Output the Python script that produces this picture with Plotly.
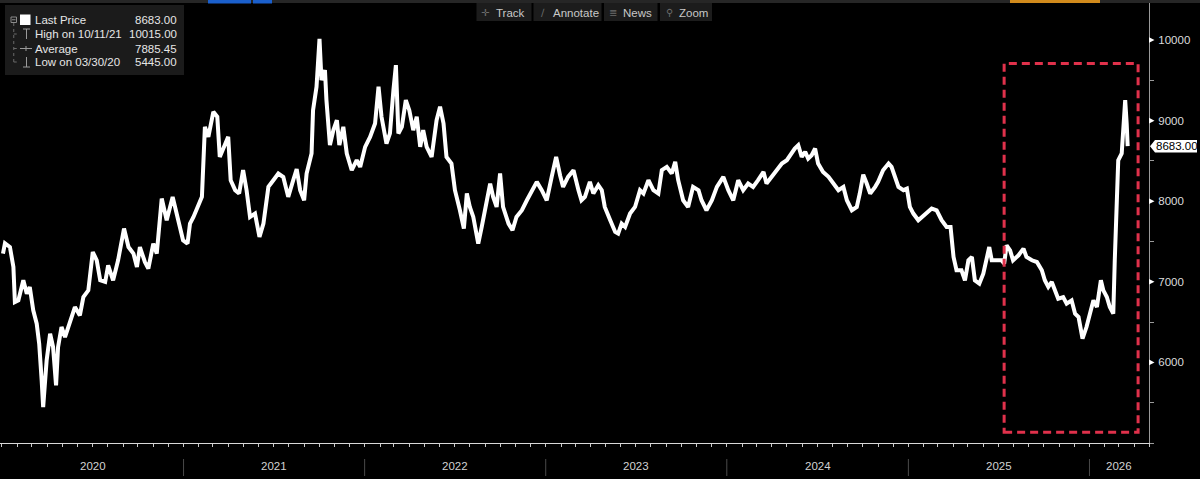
import pandas as pd
import plotly.graph_objects as go

# ---------------- data ----------------
dates = [
    "2020-01-03", "2020-01-07", "2020-01-17", "2020-01-24", "2020-01-27", "2020-02-03", "2020-02-13",
    "2020-02-20", "2020-02-26", "2020-03-04", "2020-03-11", "2020-03-16", "2020-03-21", "2020-03-24",
    "2020-03-31", "2020-04-07", "2020-04-13", "2020-04-19", "2020-04-23", "2020-04-30", "2020-05-07",
    "2020-05-17", "2020-05-27", "2020-06-06", "2020-06-13", "2020-06-23", "2020-07-02", "2020-07-10",
    "2020-07-17", "2020-07-27", "2020-08-02", "2020-08-12", "2020-08-22", "2020-09-03", "2020-09-12",
    "2020-09-22", "2020-09-29", "2020-10-05", "2020-10-15", "2020-10-22", "2020-11-01", "2020-11-08",
    "2020-11-18", "2020-11-28", "2020-12-10", "2020-12-18", "2020-12-25", "2020-12-31", "2021-01-09",
    "2021-01-14", "2021-01-21", "2021-01-31", "2021-02-07", "2021-02-13", "2021-02-20", "2021-03-02",
    "2021-03-10", "2021-03-15", "2021-03-23", "2021-04-01", "2021-04-06", "2021-04-15", "2021-04-23",
    "2021-05-01", "2021-05-08", "2021-05-15", "2021-05-25", "2021-06-03", "2021-06-11", "2021-06-21",
    "2021-07-01", "2021-07-11", "2021-07-21", "2021-07-31", "2021-08-10", "2021-08-17", "2021-08-24",
    "2021-09-01", "2021-09-06", "2021-09-16", "2021-09-19", "2021-09-26", "2021-10-02", "2021-10-06",
    "2021-10-13", "2021-10-16", "2021-10-23", "2021-10-30", "2021-11-06", "2021-11-11", "2021-11-19",
    "2021-11-26", "2021-12-06", "2021-12-16", "2021-12-23", "2022-01-02", "2022-01-12", "2022-01-22",
    "2022-01-29", "2022-02-04", "2022-02-14", "2022-02-21", "2022-02-28", "2022-03-05", "2022-03-10",
    "2022-03-17", "2022-03-25", "2022-04-01", "2022-04-09", "2022-04-16", "2022-04-23", "2022-04-29",
    "2022-05-06", "2022-05-16", "2022-05-26", "2022-06-02", "2022-06-09", "2022-06-15", "2022-06-25",
    "2022-07-02", "2022-07-12", "2022-07-20", "2022-07-26", "2022-08-01", "2022-08-08", "2022-08-18",
    "2022-08-25", "2022-09-01", "2022-09-11", "2022-09-17", "2022-09-24", "2022-10-01", "2022-10-07",
    "2022-10-18", "2022-10-26", "2022-11-03", "2022-11-14", "2022-11-24", "2022-12-04", "2022-12-14",
    "2022-12-24", "2023-01-03", "2023-01-13", "2023-01-22", "2023-01-30", "2023-02-05", "2023-02-15",
    "2023-02-26", "2023-03-08", "2023-03-14", "2023-03-21", "2023-03-31", "2023-04-07", "2023-04-17",
    "2023-04-24", "2023-04-30", "2023-05-11", "2023-05-21", "2023-05-27", "2023-06-03", "2023-06-10",
    "2023-06-20", "2023-06-30", "2023-07-10", "2023-07-17", "2023-07-27", "2023-08-06", "2023-08-16",
    "2023-08-23", "2023-09-02", "2023-09-12", "2023-09-19", "2023-09-25", "2023-10-05", "2023-10-15",
    "2023-10-25", "2023-11-05", "2023-11-11", "2023-11-21", "2023-12-02", "2023-12-12", "2023-12-25",
    "2024-01-04", "2024-01-14", "2024-01-24", "2024-02-03", "2024-02-13", "2024-02-23", "2024-03-04",
    "2024-03-15", "2024-03-21", "2024-03-31", "2024-04-11", "2024-04-21", "2024-05-01", "2024-05-09",
    "2024-05-17", "2024-05-24", "2024-05-31", "2024-06-07", "2024-06-13", "2024-06-20", "2024-06-27",
    "2024-07-03", "2024-07-13", "2024-07-24", "2024-08-03", "2024-08-13", "2024-08-23", "2024-08-30",
    "2024-09-09", "2024-09-19", "2024-09-25", "2024-10-02", "2024-10-09", "2024-10-16", "2024-10-26",
    "2024-11-01", "2024-11-11", "2024-11-22", "2024-11-28", "2024-12-05", "2024-12-12", "2024-12-22",
    "2024-12-29", "2025-01-04", "2025-01-11", "2025-01-21", "2025-01-28", "2025-02-07", "2025-02-17",
    "2025-02-27", "2025-03-09", "2025-03-19", "2025-03-27", "2025-04-02", "2025-04-08", "2025-04-18",
    "2025-04-25", "2025-05-02", "2025-05-09", "2025-05-15", "2025-05-24", "2025-06-01", "2025-06-08",
    "2025-06-13", "2025-06-18", "2025-06-28", "2025-07-08", "2025-07-13", "2025-07-18", "2025-07-25",
    "2025-07-31", "2025-08-11", "2025-08-21", "2025-08-27", "2025-09-07", "2025-09-17", "2025-09-27",
    "2025-10-03", "2025-10-10", "2025-10-17", "2025-10-24", "2025-10-30", "2025-11-09", "2025-11-16",
    "2025-11-26", "2025-12-03", "2025-12-10", "2025-12-18", "2025-12-26", "2026-01-02", "2026-01-09",
    "2026-01-16", "2026-01-24", "2026-01-29", "2026-02-05", "2026-02-11", "2026-02-18", "2026-02-21",
    "2026-02-25", "2026-02-28", "2026-03-07", "2026-03-14", "2026-03-17", "2026-03-19",
]
prices = [
    7350, 7478, 7432, 7184, 6749, 6770, 7019,
    6853, 6936, 6646, 6481, 6232, 5776, 5445,
    6025, 6357, 6190, 5714, 6190, 6439, 6315,
    6522, 6687, 6584, 6811, 6894, 7370, 7267,
    7019, 6998, 7205, 7019, 7267, 7661, 7432,
    7350, 7184, 7432, 7246, 7164, 7474, 7350,
    8033, 7764, 8054, 7847, 7681, 7516, 7474,
    7723, 7805, 7971, 8054, 8923, 8799, 9110,
    9048, 8550, 8675, 8799, 8261, 8137, 8096,
    8385, 8137, 7805, 7847, 7557, 7723, 8178,
    8261, 8344, 8300, 8054, 8261, 8400, 8137,
    8012, 8344, 8592, 9130, 9420, 10015, 9503,
    9627, 9255, 8696, 8882, 9006, 8696, 8923,
    8592, 8385, 8509, 8426, 8675, 8799, 8965,
    9420, 9048, 8716, 8841, 9379, 9689, 8841,
    8923, 9255, 9130, 8882, 9048, 8675, 8882,
    8675, 8550, 9006, 9172, 8965, 8550, 8468,
    8137, 7888, 7661, 8096, 7929, 7805, 7474,
    7681, 7929, 8219, 8054, 7929, 8344, 7929,
    7723, 7640, 7805, 7888, 8012, 8137, 8240,
    8137, 8012, 8302, 8550, 8320, 8178, 8302,
    8385, 8137, 8012, 8054, 8240, 8096, 8199,
    8137, 7929, 7764, 7619, 7598, 7723, 7681,
    7847, 7929, 8137, 8096, 8261, 8137, 8096,
    8385, 8426, 8344, 8489, 8261, 8012, 7929,
    8178, 8137, 8012, 7888, 8012, 8178, 8302,
    8137, 8012, 8261, 8137, 8220, 8178, 8261,
    8364, 8220, 8302, 8406, 8468, 8509, 8592,
    8654, 8696, 8550, 8613, 8530, 8571, 8654,
    8468, 8364, 8302, 8220, 8137, 8178, 8012,
    7888, 7929, 8096, 8330, 8220, 8096, 8178,
    8240, 8385, 8468, 8426, 8302, 8178, 8137,
    8157, 7929, 7847, 7764, 7805, 7867, 7909,
    7888, 7764, 7681, 7681, 7308, 7143, 7143,
    7019, 7267, 7308, 7019, 6977, 7101, 7267,
    7432, 7267, 7267, 7267, 7226, 7453, 7391,
    7267, 7329, 7412, 7308, 7267, 7246, 7143,
    7019, 6936, 6998, 6894, 6791, 6811, 6729,
    6770, 6605, 6563, 6295, 6439, 6605, 6770,
    6687, 7019, 6894, 6811, 6687, 6605, 7267,
    7888, 8509, 8592, 9255, 8965, 8683,
]

last_price = 8683.00
legend_labels = ["Last Price", "High on 10/11/21", "Average", "Low on 03/30/20"]
legend_values = ["8683.00", "10015.00", "7885.45", "5445.00"]
y_tick_values = [6000, 7000, 8000, 9000, 10000]
y_minor_values = [5000, 5500, 6500, 7500, 8500, 9500]
year_labels = ["2020", "2021", "2022", "2023", "2024", "2025", "2026"]
x_range = ["2019-12-28", "2026-05-01"]
y_range = [5000, 10497]
box_x = ["2025-07-13", "2026-04-09"]
box_y = [5134, 9710]
toolbar_labels = ["Track", "Annotate", "News", "Zoom"]
toolbar_icons = ["\u271b", "\u2215", "\u2263", "\u26b2"]

# ---------------- layout helpers ----------------
W, H = 1200, 479
PW, PH = 1149, 443          # plot area in pixels (left=0, top=0)


def px(x):
    return x / PW


def py(y):
    return (PH - y) / PH


LEG_FONT = "Liberation Sans, Arial, sans-serif"
UNIT_PER_PX = (y_range[1] - y_range[0]) / PH

fig = go.Figure()
fig.add_trace(go.Scatter(
    x=pd.to_datetime(dates), y=prices, mode="lines",
    line=dict(color="#ffffff", width=4), hoverinfo="skip", showlegend=False,
))

shapes = []
annotations = []

# top UI strip
shapes.append(dict(type="rect", xref="paper", yref="paper", x0=0, x1=px(W), y0=py(3), y1=py(0),
                   fillcolor="#262626", line=dict(width=0), layer="above"))
shapes.append(dict(type="rect", xref="paper", yref="paper", x0=px(208), x1=px(251), y0=py(3.5), y1=py(0),
                   fillcolor="#1a5fcc", line=dict(width=0), layer="above"))
shapes.append(dict(type="rect", xref="paper", yref="paper", x0=px(253), x1=px(272), y0=py(3.5), y1=py(0),
                   fillcolor="#1a5fcc", line=dict(width=0), layer="above"))
shapes.append(dict(type="rect", xref="paper", yref="paper", x0=px(1010), x1=px(1100), y0=py(3), y1=py(0),
                   fillcolor="#d08a1c", line=dict(width=0), layer="above"))

# toolbar
btn_x = [(476.5, 531.5), (533.5, 601.5), (604, 657.5), (660, 712)]
for (x0, x1), lab, ic in zip(btn_x, toolbar_labels, toolbar_icons):
    shapes.append(dict(type="rect", xref="paper", yref="paper", x0=px(x0), x1=px(x1), y0=py(21), y1=py(3),
                       fillcolor="#1c1c1c", line=dict(width=0), layer="above"))
    annotations.append(dict(xref="paper", yref="paper", x=px(x0 + 9), y=py(12.5), text=ic, showarrow=False,
                            xanchor="center", yanchor="middle", font=dict(family="DejaVu Sans", size=10, color="#6c6c6c")))
    annotations.append(dict(xref="paper", yref="paper", x=px(x0 + 17), y=py(12.5), text=lab, showarrow=False,
                            xanchor="left", yanchor="middle", font=dict(family=LEG_FONT, size=11.5, color="#c8c8c8")))

# legend box
shapes.append(dict(type="rect", xref="paper", yref="paper", x0=px(5), x1=px(184), y0=py(75), y1=py(5),
                   fillcolor="#1b1b1b", line=dict(width=0), layer="above"))
row_y = [20.5, 34, 48.5, 62]
for lab, val, ry in zip(legend_labels, legend_values, row_y):
    annotations.append(dict(xref="paper", yref="paper", x=px(33), y=py(ry), text=lab, showarrow=False,
                            xanchor="left", yanchor="middle", font=dict(family=LEG_FONT, size=11.5, color="#e6e6e6")))
    annotations.append(dict(xref="paper", yref="paper", x=px(179), y=py(ry), text=val, showarrow=False,
                            xanchor="right", yanchor="middle", font=dict(family=LEG_FONT, size=11.5, color="#e6e6e6")))
# legend icons
shapes.append(dict(type="rect", xref="paper", yref="paper", x0=px(11), x1=px(16.5), y0=py(22.5), y1=py(17),
                   fillcolor="#1b1b1b", line=dict(color="#8a8a8a", width=1), layer="above"))
shapes.append(dict(type="line", xref="paper", yref="paper", x0=px(12), x1=px(15.5), y0=py(19.75), y1=py(19.75),
                   line=dict(color="#8a8a8a", width=1), layer="above"))
shapes.append(dict(type="rect", xref="paper", yref="paper", x0=px(20), x1=px(30.5), y0=py(25), y1=py(14.5),
                   fillcolor="#ffffff", line=dict(width=0), layer="above"))
shapes.append(dict(type="line", xref="paper", yref="paper", x0=px(13.75), x1=px(13.75), y0=py(62), y1=py(23),
                   line=dict(color="#6a6a6a", width=1, dash="dot"), layer="above"))
for ry in row_y[1:]:
    shapes.append(dict(type="line", xref="paper", yref="paper", x0=px(13.75), x1=px(18), y0=py(ry), y1=py(ry),
                       line=dict(color="#6a6a6a", width=1, dash="dot"), layer="above"))
# high (T), average (-+-), low (inverted T)
shapes.append(dict(type="line", xref="paper", yref="paper", x0=px(23), x1=px(30), y0=py(29), y1=py(29),
                   line=dict(color="#9a9a9a", width=1), layer="above"))
shapes.append(dict(type="line", xref="paper", yref="paper", x0=px(26.5), x1=px(26.5), y0=py(39), y1=py(29),
                   line=dict(color="#9a9a9a", width=1), layer="above"))
shapes.append(dict(type="line", xref="paper", yref="paper", x0=px(20), x1=px(32), y0=py(48.5), y1=py(48.5),
                   line=dict(color="#9a9a9a", width=1), layer="above"))
shapes.append(dict(type="line", xref="paper", yref="paper", x0=px(26), x1=px(26), y0=py(51), y1=py(46),
                   line=dict(color="#9a9a9a", width=1), layer="above"))
shapes.append(dict(type="line", xref="paper", yref="paper", x0=px(23), x1=px(30), y0=py(67), y1=py(67),
                   line=dict(color="#9a9a9a", width=1), layer="above"))
shapes.append(dict(type="line", xref="paper", yref="paper", x0=px(26.5), x1=px(26.5), y0=py(67), y1=py(57),
                   line=dict(color="#9a9a9a", width=1), layer="above"))

# highlight box (red dashed)
shapes.append(dict(type="rect", xref="x", yref="y", x0=box_x[0], x1=box_x[1], y0=box_y[0], y1=box_y[1],
                   line=dict(color="#e0314b", width=3, dash="8px,5px"), fillcolor="rgba(0,0,0,0)", layer="above"))

# y tick pointer triangles
tri_w = px(5.5)
tri_h = 2.8 * UNIT_PER_PX
for v in y_tick_values:
    shapes.append(dict(type="path", xref="paper", yref="y",
                       path=f"M 1.0,{v + tri_h} L {1.0 + tri_w},{v} L 1.0,{v - tri_h} Z",
                       fillcolor="#ffffff", line=dict(width=0), layer="above"))

# last price tag
th = 6.3 * UNIT_PER_PX
tag_path = (f"M {px(1150)},{last_price} L {px(1155)},{last_price + th} L {px(1197)},{last_price + th} "
            f"L {px(1197)},{last_price - th} L {px(1155)},{last_price - th} Z")
shapes.append(dict(type="path", xref="paper", yref="y", path=tag_path,
                   fillcolor="#ffffff", line=dict(width=0), layer="above"))
annotations.append(dict(xref="paper", yref="y", x=px(1176.5), y=last_price, text=f"{last_price:.2f}",
                        showarrow=False, xanchor="center", yanchor="middle",
                        font=dict(family=LEG_FONT, size=11.5, color="#000000")))

# year separators and labels
x_end = pd.Timestamp(x_range[1])
for i, lab in enumerate(year_labels):
    start = pd.Timestamp(f"{lab}-01-01")
    end = min(pd.Timestamp(f"{int(lab) + 1}-01-01"), x_end)
    mid = start + (end - start) / 2
    annotations.append(dict(xref="x", yref="paper", x=mid, y=py(466), text=lab, showarrow=False,
                            xanchor="center", yanchor="middle",
                            font=dict(family=LEG_FONT, size=11.5, color="#d2d2d2")))
    if i > 0:
        shapes.append(dict(type="line", xref="x", yref="paper", x0=start, x1=start, y0=py(459), y1=py(476),
                           line=dict(color="#4a4a4a", width=1)))

fig.update_layout(
    width=W, height=H,
    margin=dict(l=0, r=W - PW, t=0, b=H - PH),
    paper_bgcolor="#000000", plot_bgcolor="#000000",
    showlegend=False,
    shapes=shapes, annotations=annotations,
    xaxis=dict(
        type="date", range=x_range, showgrid=False, zeroline=False,
        showline=True, linecolor="#d8d8d8", linewidth=1,
        ticks="outside", ticklen=3, tickcolor="#c8c8c8", tickwidth=1,
        dtick="M1", tick0="2020-01-01", showticklabels=False,
    ),
    yaxis=dict(
        side="right", range=y_range, showgrid=False, zeroline=False,
        showline=True, linecolor="#9a9a9a", linewidth=1,
        tickvals=y_tick_values, ticktext=[str(v) for v in y_tick_values],
        ticks="outside", ticklen=6, tickcolor="rgba(0,0,0,0)",
        tickfont=dict(family=LEG_FONT, size=11.5, color="#dcdcdc"),
        minor=dict(tickvals=y_minor_values, ticks="outside", ticklen=4, tickcolor="#9a9a9a"),
    ),
)

fig.write_html(
    "out.html",
    config={"displayModeBar": False},
    post_script="document.body.style.margin='0px';document.body.style.background='#000';",
)
